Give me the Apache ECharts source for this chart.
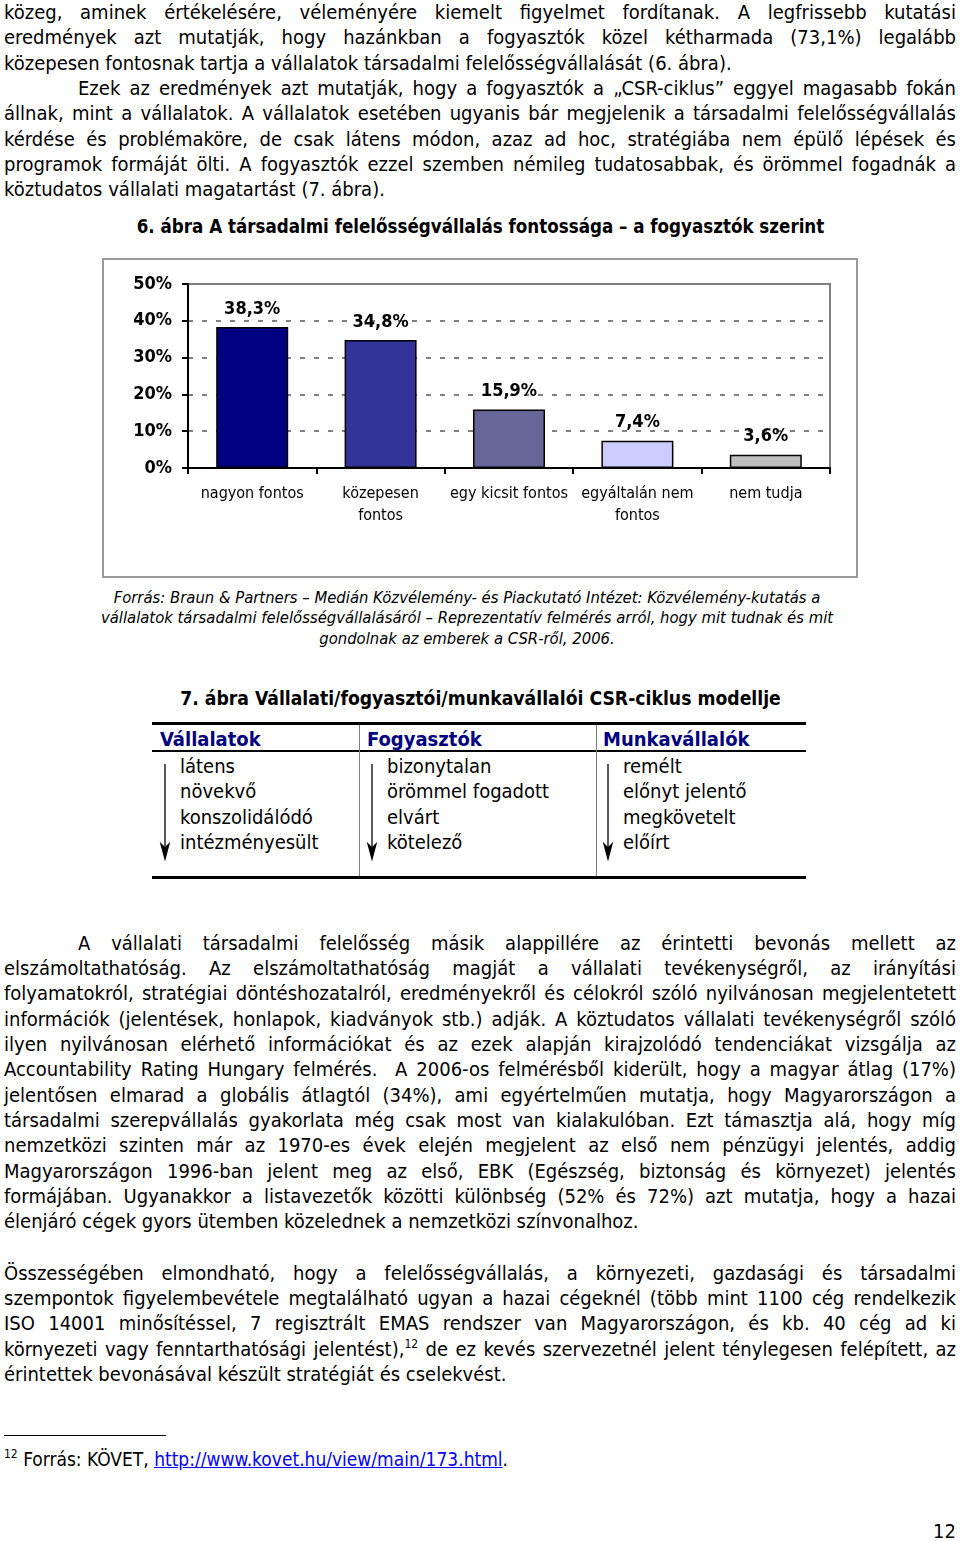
<!DOCTYPE html>
<html lang="hu">
<head>
<meta charset="utf-8">
<title>6. ábra A társadalmi felelősségvállalás fontossága</title>
<script src="https://cdn.jsdelivr.net/npm/echarts@6/dist/echarts.min.js"></script>
<style>
  html, body { margin: 0; padding: 0; background: #fff; }
  body {
    width: 960px; height: 1541px; position: relative; overflow: hidden;
    font-family: "DejaVu Sans Condensed", "DejaVu Sans", sans-serif; color: #000;
  }
  .ln {
    position: absolute; height: 25.35px; line-height: 25.35px;
    font-size: 20px; white-space: nowrap;
  }
  .j { text-align: justify; text-align-last: justify; }
  sup { font-size: 12px; line-height: 0; vertical-align: 8px; }
  .cap { position: absolute; left: 0; width: 961px; text-align: center; font-weight: bold; font-size: 18.6px; line-height: 24px; }
  .src { position: absolute; left: 0; width: 934px; text-align: center; font-style: italic; font-size: 16.5px; line-height: 20.5px; }
  .rule { position: absolute; background: #000; }
  .sep { position: absolute; background: #808080; width: 1px; }
  .th { position: absolute; color: #000080; font-weight: bold; font-size: 20px; line-height: 24px; }
  .td { position: absolute; font-size: 20px; line-height: 25.3px; }
  #chart {
    position: absolute; left: 102px; top: 258px; width: 756px; height: 320px;
    border: 2px solid #9a9a9a; box-sizing: border-box;
  }
  a { color: #0000ff; text-decoration: underline; }
</style>
</head>
<body>

<div id="text"></div>

<div class="cap" style="top:215px">6. ábra A társadalmi felelősségvállalás fontossága – a fogyasztók szerint</div>
<div id="chart"></div>
<div class="src" style="top:587.75px">Forrás: Braun &amp; Partners – Medián Közvélemény- és Piackutató Intézet: Közvélemény-kutatás a<br>vállalatok társadalmi felelősségvállalásáról – Reprezentatív felmérés arról, hogy mit tudnak és mit<br>gondolnak az emberek a CSR-ről, 2006.</div>

<div class="cap" style="top:687px; font-size:19.2px">7. ábra Vállalati/fogyasztói/munkavállalói CSR-ciklus modellje</div>
<div class="rule" style="left:152px; top:722px; width:654px; height:3px"></div>
<div class="rule" style="left:152px; top:750px; width:654px; height:2px"></div>
<div class="rule" style="left:152px; top:876px; width:654px; height:3px"></div>
<div class="sep" style="left:359px; top:725px; height:151px"></div>
<div class="sep" style="left:596px; top:725px; height:151px"></div>
<div class="th" style="left:160px; top:727px">Vállalatok</div>
<div class="th" style="left:367px; top:727px">Fogyasztók</div>
<div class="th" style="left:603px; top:727px">Munkavállalók</div>
<div class="td" style="left:180px; top:754px">látens<br>növekvő<br>konszolidálódó<br>intézményesült</div>
<div class="td" style="left:387px; top:754px">bizonytalan<br>örömmel fogadott<br>elvárt<br>kötelező</div>
<div class="td" style="left:623px; top:754px">remélt<br>előnyt jelentő<br>megkövetelt<br>előírt</div>
<svg style="position:absolute; left:0; top:0" width="960" height="900">
  <g stroke="#000" stroke-width="1.3" fill="#000">
    <line x1="165" y1="764" x2="165" y2="850"/>
    <path d="M161 844 L165 859 L169 844 L165 848 Z"/>
    <line x1="372" y1="764" x2="372" y2="850"/>
    <path d="M368 844 L372 859 L376 844 L372 848 Z"/>
    <line x1="608" y1="764" x2="608" y2="850"/>
    <path d="M604 844 L608 859 L612 844 L608 848 Z"/>
  </g>
</svg>

<div class="rule" style="left:4px; top:1435px; width:162px; height:1px"></div>
<div class="ln" style="left:4px; top:1447px; font-size:19px"><sup>12</sup> Forrás: KÖVET, <a href="#">http://www.kovet.hu/view/main/173.html</a>.</div>
<div class="ln" style="left:933px; top:1519px">12</div>

<script>
// Chart data (6. ábra)
const categories = ['nagyon fontos', 'közepesen\nfontos', 'egy kicsit fontos', 'egyáltalán nem\nfontos', 'nem tudja'];
const shares = [38.3, 34.8, 15.9, 7.4, 3.6];
const yTicks = [0, 10, 20, 30, 40, 50];

// Bar fill colours, one per category
const barColors = ['#000080', '#333399', '#666699', '#ccccff', '#c0c0c0'];

const FONT = '"DejaVu Sans Condensed", "DejaVu Sans", sans-serif';

// Body text lines: [row, indent, justify, html]
const LH = 25.35;
const bodyLines = [
  [0, 0, true, 'közeg, aminek értékelésére, véleményére kiemelt figyelmet fordítanak. A legfrissebb kutatási'],
  [1, 0, true, 'eredmények azt mutatják, hogy hazánkban a fogyasztók közel kétharmada (73,1%) legalább'],
  [2, 0, false, 'közepesen fontosnak tartja a vállalatok társadalmi felelősségvállalását (6. ábra).'],
  [3, 74, true, 'Ezek az eredmények azt mutatják, hogy a fogyasztók a „CSR-ciklus” eggyel magasabb fokán'],
  [4, 0, true, 'állnak, mint a vállalatok. A vállalatok esetében ugyanis bár megjelenik a társadalmi felelősségvállalás'],
  [5, 0, true, 'kérdése és problémaköre, de csak látens módon, azaz ad hoc, stratégiába nem épülő lépések és'],
  [6, 0, true, 'programok formáját ölti. A fogyasztók ezzel szemben némileg tudatosabbak, és örömmel fogadnák a'],
  [7, 0, false, 'köztudatos vállalati magatartást (7. ábra).']
];
const bodyLines2 = [
  [0, 74, true, 'A vállalati társadalmi felelősség másik alappillére az érintetti bevonás mellett az'],
  [1, 0, true, 'elszámoltathatóság. Az elszámoltathatóság magját a vállalati tevékenységről, az irányítási'],
  [2, 0, true, 'folyamatokról, stratégiai döntéshozatalról, eredményekről és célokról szóló nyilvánosan megjelentetett'],
  [3, 0, true, 'információk (jelentések, honlapok, kiadványok stb.) adják. A köztudatos vállalati tevékenységről szóló'],
  [4, 0, true, 'ilyen nyilvánosan elérhető információkat és az ezek alapján kirajzolódó tendenciákat vizsgálja az'],
  [5, 0, true, 'Accountability Rating Hungary felmérés.&nbsp; A 2006-os felmérésből kiderült, hogy a magyar átlag (17%)'],
  [6, 0, true, 'jelentősen elmarad a globális átlagtól (34%), ami egyértelműen mutatja, hogy Magyarországon a'],
  [7, 0, true, 'társadalmi szerepvállalás gyakorlata még csak most van kialakulóban. Ezt támasztja alá, hogy míg'],
  [8, 0, true, 'nemzetközi szinten már az 1970-es évek elején megjelent az első nem pénzügyi jelentés, addig'],
  [9, 0, true, 'Magyarországon 1996-ban jelent meg az első, EBK (Egészség, biztonság és környezet) jelentés'],
  [10, 0, true, 'formájában. Ugyanakkor a listavezetők közötti különbség (52% és 72%) azt mutatja, hogy a hazai'],
  [11, 0, false, 'élenjáró cégek gyors ütemben közelednek a nemzetközi színvonalhoz.']
];
const bodyLines3 = [
  [0, 0, true, 'Összességében elmondható, hogy a felelősségvállalás, a környezeti, gazdasági és társadalmi'],
  [1, 0, true, 'szempontok figyelembevétele megtalálható ugyan a hazai cégeknél (több mint 1100 cég rendelkezik'],
  [2, 0, true, 'ISO 14001 minősítéssel, 7 regisztrált EMAS rendszer van Magyarországon, és kb. 40 cég ad ki'],
  [3, 0, true, 'környezeti vagy fenntarthatósági jelentést),<sup>12</sup> de ez kevés szervezetnél jelent ténylegesen felépített, az'],
  [4, 0, false, 'érintettek bevonásával készült stratégiát és cselekvést.']
];

function renderText() {
  const box = document.getElementById('text');
  const blocks = [[0, bodyLines], [930.5, bodyLines2], [1260.5, bodyLines3]];
  let html = '';
  blocks.forEach(([top, lines]) => {
    lines.forEach(([row, indent, justify, txt]) => {
      const left = 4 + indent;
      html += `<div class="ln${justify ? ' j' : ''}" style="top:${top + row * LH}px; left:${left}px; width:${956 - left}px">${txt}</div>`;
    });
  });
  box.innerHTML = html;
}

function renderChart() {
  const chart = echarts.init(document.getElementById('chart'));

  chart.setOption({
    animation: false,
    textStyle: { fontFamily: FONT },
    grid: {
      left: 84, top: 24, width: 642, height: 184,
      outerBoundsMode: 'none',
      show: true, borderColor: '#808080', borderWidth: 2
    },
    xAxis: {
      type: 'category',
      data: categories,
      axisLine: { lineStyle: { color: '#000', width: 2 } },
      axisTick: { show: true, length: 6, lineStyle: { color: '#000', width: 2 } },
      axisLabel: { color: '#000', fontSize: 16, lineHeight: 22, margin: 15, interval: 0, fontFamily: FONT },
      splitLine: { show: false }
    },
    yAxis: {
      type: 'value',
      min: yTicks[0],
      max: yTicks[yTicks.length - 1],
      interval: yTicks[1] - yTicks[0],
      axisLine: { show: true, lineStyle: { color: '#000', width: 2 } },
      axisTick: { show: true, length: 6, lineStyle: { color: '#000', width: 2 } },
      axisLabel: { formatter: '{value}%', color: '#000', fontWeight: 'bold', fontSize: 18, margin: 16, fontFamily: FONT },
      splitLine: { show: true, lineStyle: { color: '#808080', type: [5, 9], width: 2 } }
    },
    series: [{
      type: 'bar',
      data: shares.map((v, i) => ({ value: v, itemStyle: { color: barColors[i] } })),
      barWidth: 72,
      itemStyle: { borderColor: '#000', borderWidth: 1.5 },
      label: {
        show: true,
        position: 'top',
        distance: 9,
        color: '#000',
        fontWeight: 'bold',
        fontSize: 18,
        fontFamily: FONT,
        formatter: p => p.value.toFixed(1).replace('.', ',') + '%'
      }
    }]
  });
}

renderText();
renderChart();
</script>
</body>
</html>
